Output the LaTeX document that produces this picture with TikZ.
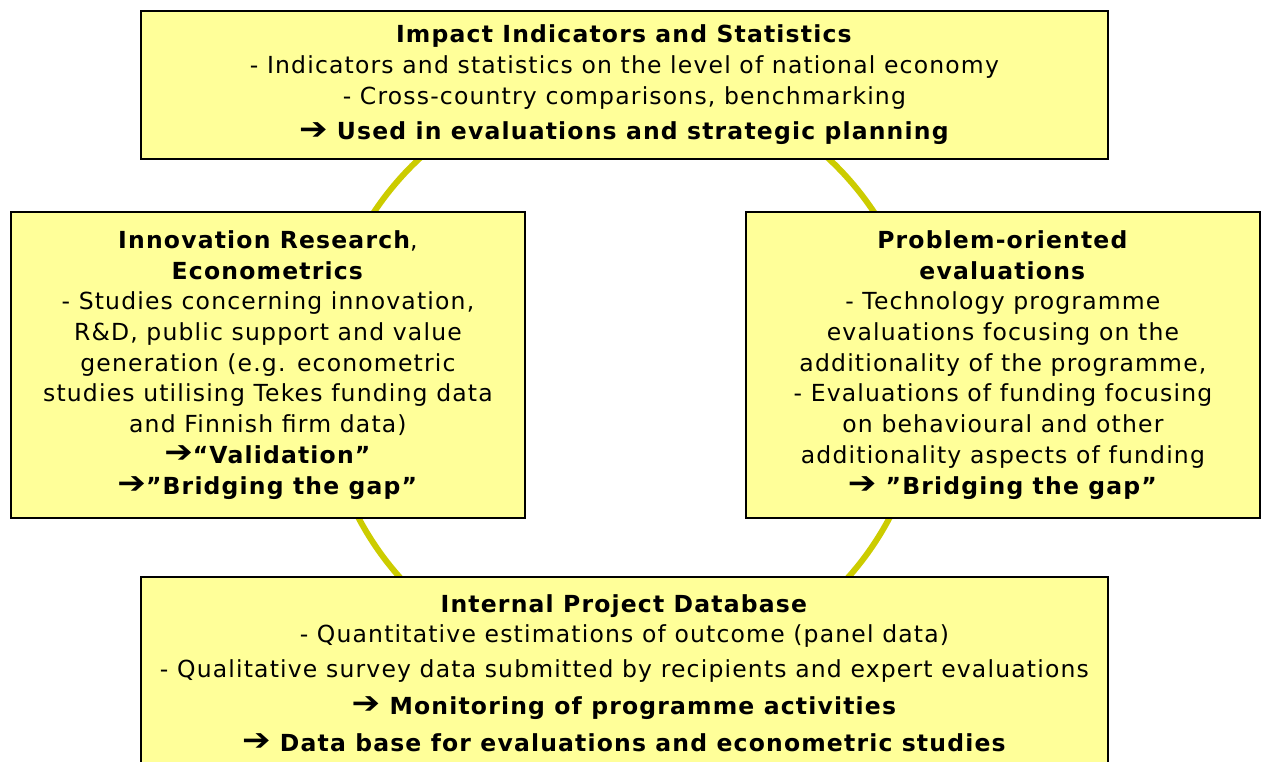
\documentclass[tikz,border=0pt]{standalone}
\usepackage{fontspec}
\setmainfont{DejaVu Sans}[LetterSpace=5]
\definecolor{boxfill}{HTML}{FFFF99}
\definecolor{ringcol}{HTML}{CCCC00}
\newcommand{\arr}{\raisebox{0.5pt}{\scalebox{1.45}[1.3]{➔}}}
\begin{document}
\begin{tikzpicture}[x=1pt,y=-1pt,
  infobox/.style={draw=black,line width=1.8pt,fill=boxfill,inner sep=0pt,anchor=north west,align=center,
    font=\fontsize{23.5}{30.7}\selectfont},
  ring/.style={draw=ringcol,line width=6pt}]
\useasboundingbox (0,0) rectangle (1264,762);
\draw[ring] (624,378) circle (300);
\node[infobox,minimum width=967pt,minimum height=148pt] (impact) at (140,10)
  {\textbf{Impact Indicators and Statistics}\\
   - Indicators and statistics on the level of national economy\\
   - Cross-country comparisons, benchmarking\\[5pt]
   \textbf{\arr{} Used in evaluations and strategic planning}};
\node[infobox,minimum width=514pt,minimum height=306pt] (research) at (10,211)
  {\textbf{Innovation Research},\\
   \textbf{Econometrics}\\
   - Studies concerning innovation,\\
   R\&D, public support and value\\
   generation (e.g. econometric\\
   studies utilising Tekes funding data\\
   and Finnish firm data)\\
   \textbf{\arr“Validation”}\\
   \textbf{\arr”Bridging the gap”}};
\node[infobox,minimum width=514pt,minimum height=306pt] (problem) at (745,211)
  {\textbf{Problem-oriented}\\
   \textbf{evaluations}\\
   - Technology programme\\
   evaluations focusing on the\\
   additionality of the programme,\\
   - Evaluations of funding focusing\\
   on behavioural and other\\
   additionality aspects of funding\\
   \textbf{\arr{} ”Bridging the gap”}};
\node[infobox,minimum width=967pt,minimum height=192pt] (database) at (140,576)
  {\textbf{Internal Project Database}\\
   - Quantitative estimations of outcome (panel data)\\[4pt]
   - Qualitative survey data submitted by recipients and expert evaluations\\[6pt]
   \textbf{\arr{} Monitoring of programme activities}\\[6pt]
   \textbf{\arr{} Data base for evaluations and econometric studies}};
\end{tikzpicture}
\end{document}
